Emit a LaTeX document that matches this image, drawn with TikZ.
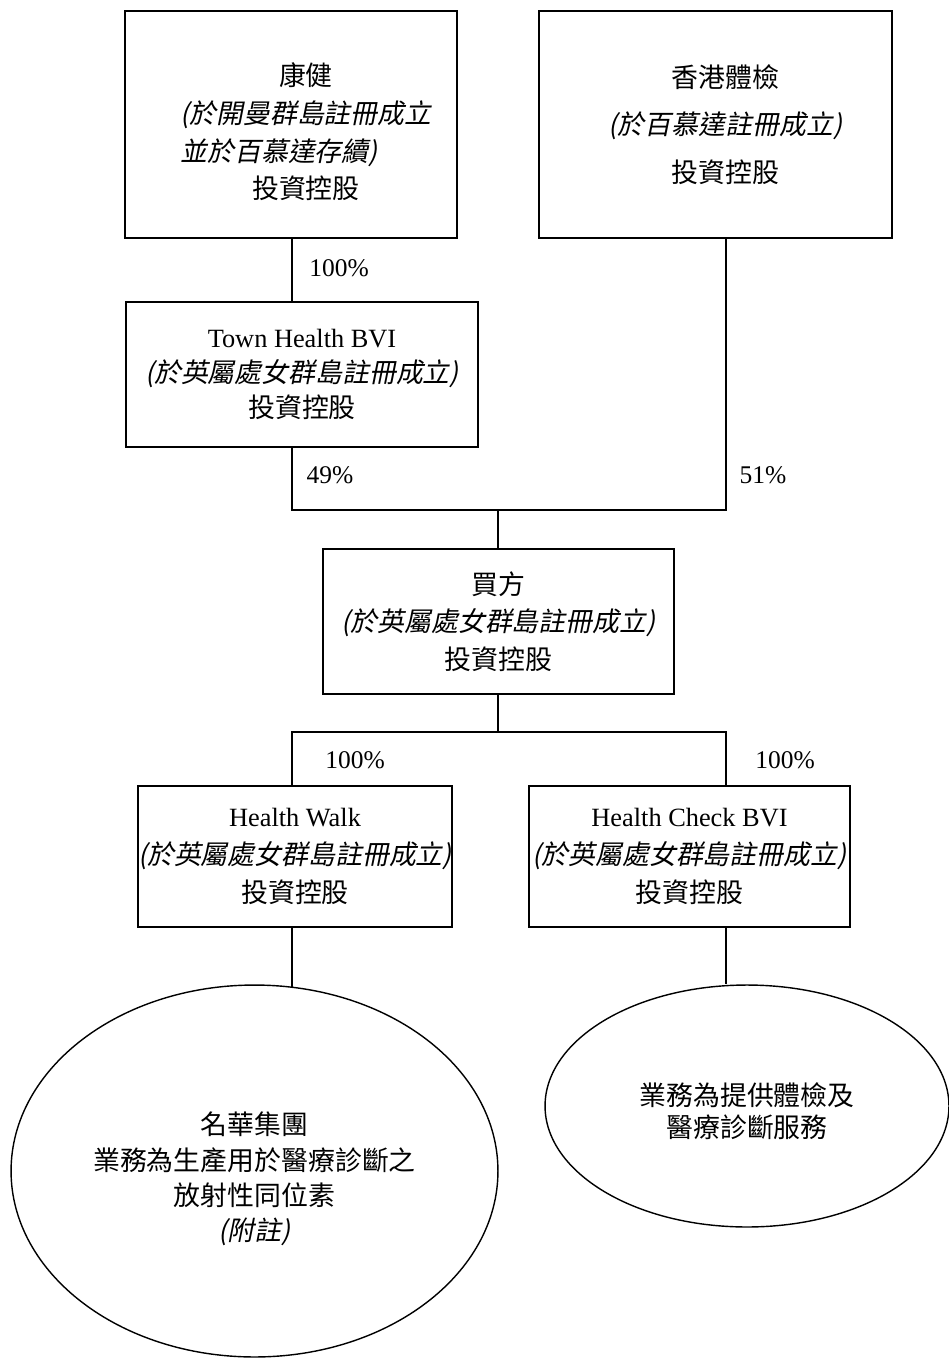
\documentclass[tikz,border=0pt]{standalone}
\usepackage{fontspec}
\setmainfont{Liberation Serif}
\newfontfamily\cjk{Noto Sans CJK TC}
\newfontfamily\cjkit[FakeSlant=0.2]{Noto Sans CJK TC}
\usepackage{xcolor}
\usepackage{tikz}
\usetikzlibrary{shapes}
\usetikzlibrary{positioning}
\usetikzlibrary{shapes.geometric}
\newcommand{\lat}[1]{{\rmfamily\fontsize{15}{21.5}\selectfont #1}}
\tikzset{
    orgbox/.style = {rectangle, draw=black, line width=0.8pt, align=center, inner sep=0pt, font=\cjk\fontsize{15.3}{21.5}\selectfont},
    orgoval/.style = {ellipse, draw=black, line width=0.8pt, align=center, inner sep=0pt, font=\cjk\fontsize{15.3}{20}\selectfont},
    pct/.style = {font=\fontsize{14.5}{17}\selectfont, inner sep=0pt},
    link/.style = {line width=0.8pt},
}

\begin{document}
\begin{tikzpicture}[x=0.02cm, y=-0.02cm]
  \useasboundingbox (0,0) rectangle (949,1358);
  % top holders
  \node[orgbox, minimum width=6.64cm, minimum height=4.54cm] (kangjian) at (291,124.5)
    {\hspace*{0.6cm}\rule{0pt}{21.4pt}康健\\
     \hspace*{0.6cm}{\cjkit (於開曼群島註冊成立}\\
     \hspace*{0.6cm}{\cjkit 並於百慕達存續)\hphantom{成立}}\\
     \hspace*{0.6cm}投資控股};
  \node[orgbox, minimum width=7.06cm, minimum height=4.54cm, font=\cjk\fontsize{15.3}{27}\selectfont] (hkcheck) at (715.5,124.5)
    {\hspace*{0.4cm}香港體檢\\ \hspace*{0.4cm}{\cjkit (於百慕達註冊成立)}\\ \hspace*{0.4cm}投資控股};
  \node[orgbox, minimum width=7.04cm, minimum height=2.9cm, font=\cjk\fontsize{15.3}{20}\selectfont] (townbvi) at (302,374.5)
    {\lat{Town Health BVI}\\ {\cjkit (於英屬處女群島註冊成立)}\\ 投資控股};
  % purchaser
  \node[orgbox, minimum width=7.02cm, minimum height=2.9cm] (buyer) at (498.5,621.5)
    {買方\\ {\cjkit (於英屬處女群島註冊成立)}\\ 投資控股};
  % subsidiaries
  \node[orgbox, minimum width=6.2cm, minimum height=2.82cm] (walk) at (295,856.5)
    {\lat{Health Walk}\\ {\cjkit (於英屬處女群島註冊成立)}\\ 投資控股};
  \node[orgbox, minimum width=6.42cm, minimum height=2.82cm] (checkbvi) at (689.5,856.5)
    {\lat{Health Check BVI}\\ {\cjkit (於英屬處女群島註冊成立)}\\ 投資控股};
  % businesses
  \node[orgoval, minimum width=9.74cm, minimum height=7.44cm] (mhgroup) at (254.5,1171)
    {\rule{0pt}{22pt}名華集團\\ 業務為生產用於醫療診斷之\\ 放射性同位素\\ {\cjkit (附註)}};
  \node[orgoval, minimum width=8.08cm, minimum height=4.84cm, font=\cjk\fontsize{15.3}{18}\selectfont] (service) at (747,1106)
    {\rule{0pt}{19pt}業務為提供體檢及\\ 醫療診斷服務};
  % joints
  \coordinate (ljoin) at (292,510);
  \coordinate (rjoin) at (726,510);
  \coordinate (mjoin) at (498,510);
  \coordinate (bjoin) at (498,732);
  \coordinate (bl) at (292,732);
  \coordinate (br) at (726,732);
  % connectors
  \draw[link] (kangjian.south -| ljoin) -- (townbvi.north -| ljoin);
  \draw[link] (townbvi.south -| ljoin) -- (ljoin) -- (rjoin) -- (hkcheck.south -| rjoin);
  \draw[link] (mjoin) -- (buyer.north -| mjoin);
  \draw[link] (buyer.south -| bjoin) -- (bjoin);
  \draw[link] (walk.north -| bl) -- (bl) -- (br) -- (checkbvi.north -| br);
  \draw[link] (walk.south -| bl) -- ([yshift=-2pt]mhgroup.north -| bl);
  \draw[link] (checkbvi.south -| br) -- (service.north -| br);
  % shares
  \node[pct] (pkang) at (339,268) {100\%};
  \node[pct] (ptown) at (330,475) {49\%};
  \node[pct] (phk) at (763,475) {51\%};
  \node[pct] (pwalk) at (355,760) {100\%};
  \node[pct] (pcheck) at (785,760) {100\%};
\end{tikzpicture}
\end{document}
